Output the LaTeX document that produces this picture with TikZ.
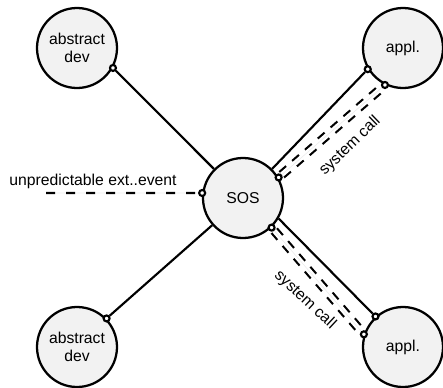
\documentclass[tikz,border=0pt]{standalone}
\usepackage{fontspec}
\setmainfont{Liberation Sans}
\usetikzlibrary{backgrounds}
\definecolor{unitfill}{HTML}{F2F2F2}
\tikzset{
  unit/.style={circle, draw, fill=unitfill, line width=1.7pt, minimum size=60pt, inner sep=0pt, align=center, font=\fontsize{11.8}{13.5}\selectfont},
  port/.style={circle, draw, fill=white, line width=1.6pt, minimum size=4.5pt, inner sep=0pt},
  link/.style={line width=1.6pt},
  evline/.style={line width=1.7pt, dash pattern=on 6.75pt off 8.25pt, preaction={draw, solid, black!8, line width=0.4pt}},
  callpath/.style={line width=7pt, dash pattern=on 6.75pt off 6pt, postaction={draw, solid, white, line width=3.75pt}, postaction={draw, solid, black!8, line width=0.4pt}},
  lbl/.style={inner sep=0pt, font=\fontsize{11.8}{13.5}\selectfont}
}
\begin{document}
\begin{tikzpicture}[x=0.75pt, y=-0.75pt]
\useasboundingbox (0,0) rectangle (443,387);
% units
\node[unit] (adev1) at (77,48) {abstract\\dev};
\node[unit] (adev2) at (77,347) {abstract\\dev};
\node[unit] (sos) at (243,198) {SOS};
\node[unit] (appl1) at (403,48) {appl.};
\node[unit] (appl2) at (403,347) {appl.};
% ports
\node[port] (adev1p) at (adev1.-29) {};
\node[port] (adev2p) at (adev2.44) {};
\node[port] (sosev) at (sos.173) {};
\node[port] (sosup) at (sos.30) {};
\node[port] (soslo) at (sos.-46) {};
\node[port] (appl1a) at (appl1.211) {};
\node[port] (appl1b) at (appl1.244) {};
\node[port] (appl2a) at (appl2.132) {};
\node[port] (appl2b) at (appl2.162) {};
\coordinate (evsrc) at (46,193);
% labels
\node[lbl] (evlabel) at (93,181) {unpredictable ext..event};
\node[lbl, rotate=44] (call1) at (350,146) {system call};
\node[lbl, rotate=-43] (call2) at (305,300) {system call};
% connectors
\begin{pgfonlayer}{background}
\draw[link] (adev1p) -- (sos);
\draw[link] (adev2p) -- (sos);
\draw[evline] (evsrc) -- (sosev);
\draw[link] (sos.45) -- (appl1a);
\draw[callpath] (sosup) -- (appl1b);
\draw[link] (sos.-30) -- (appl2a);
\draw[callpath] (soslo) -- (appl2b);
\end{pgfonlayer}
\end{tikzpicture}
\end{document}
